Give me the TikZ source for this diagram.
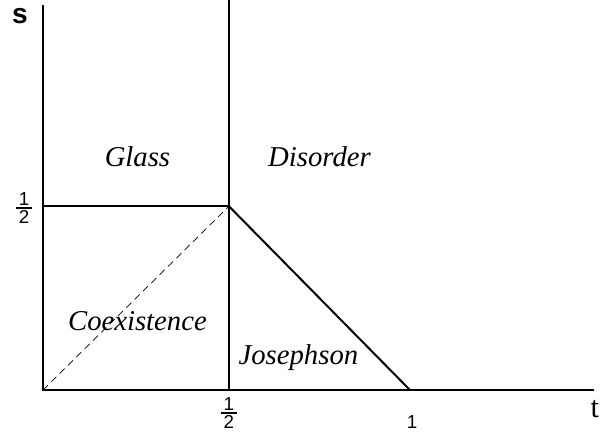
\documentclass[tikz,border=0pt]{standalone}
\usepackage{amsmath}
\usepackage{fontspec}
\setmainfont{Liberation Serif}
\setsansfont{Liberation Sans}
\tikzset{
  region/.style={font=\fontsize{24.5}{28}\selectfont\itshape},
  ticklab/.style={font=\fontsize{16}{18}\selectfont\sffamily},
}
\newcommand{\halfmark}{$\genfrac{}{}{1.5pt}{1}{\mbox{\sffamily\,1\,}}{\mbox{\sffamily\,2\,}}$}
\begin{document}
\begin{tikzpicture}[x=11.025cm,y=11.025cm,line cap=butt,line join=miter]
  \useasboundingbox (-0.11701,-0.13605) rectangle (1.55646,1.06122);
  \coordinate (O) at (0,0);
  \coordinate (S) at (0,0.5);
  \coordinate (H) at (0.506,0.5);
  \coordinate (Hb) at (0.506,0);
  \coordinate (Ht) at (0.506,1.0612);
  \coordinate (T) at (0.9986,0);
  \coordinate (tend) at (1.5,0);
  \coordinate (send) at (0,1.0476);
  % axes
  \draw[line width=1.8pt] (send |- S) -- (O) -- (tend);
  \draw[line width=1.2pt] (S) -- (send);
  % phase boundaries
  \draw[line width=1.7pt] (S) -- (H);
  \draw[line width=1.7pt] (Hb) -- (Ht);
  \draw[line width=1.7pt] (H) -- (T);
  \draw[line width=0.6pt,dash pattern=on 6pt off 4pt] (O) -- (H);
  % labels
  \node[font=\fontsize{24}{28}\selectfont\sffamily\bfseries,anchor=base] (slab) at (-0.0626,0.9986) {s};
  \node[font=\fontsize{26}{30}\selectfont,anchor=base] (tlab) at (1.5014,-0.0735) {t};
  \node[ticklab] (shalf) at (-0.0517,0.495) {\halfmark};
  \node[ticklab] (thalf) at (0.506,-0.0626) {\halfmark};
  \node[ticklab] (tone) at (1.004,-0.087) {1};
  \node[region,anchor=base] (glass) at (0.257,0.607) {Glass};
  \node[region,anchor=base] (disorder) at (0.7524,0.607) {Disorder};
  \node[region,anchor=base] (coex) at (0.257,0.163) {Coexistence};
  \node[region,anchor=base] (joseph) at (0.695,0.0707) {Josephson};
\end{tikzpicture}
\end{document}
